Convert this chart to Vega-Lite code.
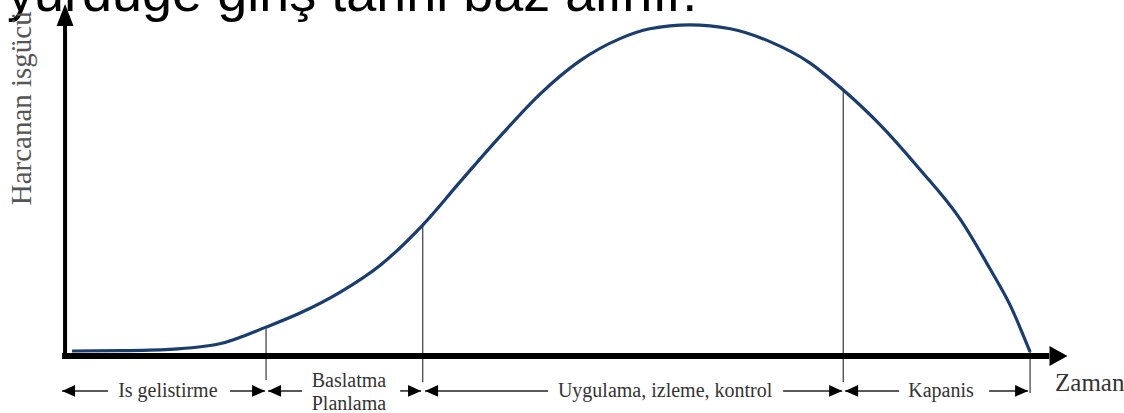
{
  "$schema": "https://vega.github.io/schema/vega-lite/v6.json",
  "width": 1124,
  "height": 413,
  "autosize": {"type": "none"},
  "padding": 0,
  "background": "white",
  "config": {"view": {"stroke": null}},
  "datasets": {
    "curve": [
      {"t": 0, "e": 0.3}, {"t": 5.0, "e": 0.4}, {"t": 10.2, "e": 0.8}, {"t": 15.4, "e": 2.5},
      {"t": 20.25, "e": 7.6}, {"t": 23.8, "e": 11.9}, {"t": 28.0, "e": 18.3}, {"t": 32.2, "e": 26.6},
      {"t": 36.6, "e": 38.8}, {"t": 40.5, "e": 52.0}, {"t": 44.7, "e": 66.0}, {"t": 48.9, "e": 79.0},
      {"t": 53.0, "e": 89.0}, {"t": 57.2, "e": 95.8}, {"t": 60.3, "e": 98.8}, {"t": 64.5, "e": 100},
      {"t": 68.7, "e": 98.8}, {"t": 72.9, "e": 94.8}, {"t": 77.0, "e": 88.4}, {"t": 80.5, "e": 80.1},
      {"t": 84.3, "e": 69.6}, {"t": 88.5, "e": 55.8}, {"t": 92.7, "e": 40.6}, {"t": 95.8, "e": 25.5},
      {"t": 97.9, "e": 14.4}, {"t": 100, "e": 0}
    ],
    "yaxis": [{"t": -0.73, "e": -1.22, "t2": -0.73, "e2": 101.5}],
    "xaxis": [{"t": -1.04, "e": -1.22, "t2": 102, "e2": -1.22}],
    "yhead": [{"t": -0.73, "e": 106.4}],
    "xhead": [{"t": 103.9, "e": -1.22}],
    "phases": [
      {"t": 20.25, "e": 7.6, "e2": -8.6},
      {"t": 36.6, "e": 38.8, "e2": -9.2},
      {"t": 80.5, "e": 80.1, "e2": -9.2},
      {"t": 100, "e": 0, "e2": -12.5}
    ],
    "shafts": [
      {"t": -1.04, "t2": 3.76, "e": -11.9}, {"t": 16.49, "t2": 20.15, "e": -11.9},
      {"t": 20.46, "t2": 24.01, "e": -11.9}, {"t": 34.24, "t2": 36.43, "e": -11.9},
      {"t": 36.85, "t2": 49.69, "e": -11.9}, {"t": 74.22, "t2": 80.38, "e": -11.9},
      {"t": 80.69, "t2": 86.33, "e": -11.9}, {"t": 95.72, "t2": 99.79, "e": -11.9}
    ],
    "lefthead": [{"t": -1.04, "e": -11.9}, {"t": 20.46, "e": -11.9}, {"t": 36.85, "e": -11.9}, {"t": 80.69, "e": -11.9}],
    "righthead": [{"t": 20.15, "e": -11.9}, {"t": 36.43, "e": -11.9}, {"t": 80.38, "e": -11.9}, {"t": 99.79, "e": -11.9}],
    "phaselabels": [
      {"t": 10.0, "e": -11.9, "label": "Is gelistirme"},
      {"t": 28.9, "e": -9.0, "label": "Baslatma"},
      {"t": 28.9, "e": -15.8, "label": "Planlama"},
      {"t": 61.9, "e": -11.9, "label": "Uygulama, izleme, kontrol"},
      {"t": 90.7, "e": -11.9, "label": "Kapanis"}
    ],
    "xtitle": [{"t": 102.6, "e": -9.5, "label": "Zaman"}],
    "ytitle": [{"t": -5.22, "e": 74.5, "label": "Harcanan isgücü"}],
    "toptext": [{"t": -6.79, "e": 104.3, "label": "yurduğe giriş tarihi baz alınır."}]
  },
  "encoding": {
    "x": {"field": "t", "type": "quantitative", "scale": {"domain": [-7.52, 109.8], "nice": false, "zero": false}, "axis": null},
    "y": {"field": "e", "type": "quantitative", "scale": {"domain": [-18.65, 107.6], "nice": false, "zero": false}, "axis": null}
  },
  "layer": [
    {"data": {"name": "toptext"}, "mark": {"type": "text", "font": "Liberation Sans", "fontSize": 54, "align": "left", "baseline": "alphabetic", "color": "black"}, "encoding": {"text": {"field": "label"}}},
    {"data": {"name": "phases"}, "mark": {"type": "rule", "color": "#555555", "strokeWidth": 1.4}, "encoding": {"y2": {"field": "e2"}}},
    {"data": {"name": "curve"}, "mark": {"type": "line", "color": "#1b3d6e", "strokeWidth": 3.2, "interpolate": "monotone"}},
    {"data": {"name": "yaxis"}, "mark": {"type": "rule", "color": "black", "strokeWidth": 4}, "encoding": {"x2": {"field": "t2"}, "y2": {"field": "e2"}}},
    {"data": {"name": "xaxis"}, "mark": {"type": "rule", "color": "black", "strokeWidth": 6}, "encoding": {"x2": {"field": "t2"}, "y2": {"field": "e2"}}},
    {"data": {"name": "yhead"}, "mark": {"type": "point", "shape": "M0,0L0.77,2L-0.77,2Z", "size": 484, "filled": true, "color": "black", "opacity": 1}},
    {"data": {"name": "xhead"}, "mark": {"type": "point", "shape": "M0,0L-2,-1.1L-2,1.1Z", "size": 324, "filled": true, "color": "black", "opacity": 1}},
    {"data": {"name": "shafts"}, "mark": {"type": "rule", "color": "#222222", "strokeWidth": 1.5}, "encoding": {"x2": {"field": "t2"}}},
    {"data": {"name": "lefthead"}, "mark": {"type": "point", "shape": "M0,0L2,-0.9L2,0.9Z", "size": 169, "filled": true, "color": "black", "opacity": 1}},
    {"data": {"name": "righthead"}, "mark": {"type": "point", "shape": "M0,0L-2,-0.9L-2,0.9Z", "size": 169, "filled": true, "color": "black", "opacity": 1}},
    {"data": {"name": "phaselabels"}, "mark": {"type": "text", "font": "Liberation Serif", "fontSize": 20, "align": "center", "baseline": "middle", "color": "#333333"}, "encoding": {"text": {"field": "label"}}},
    {"data": {"name": "xtitle"}, "mark": {"type": "text", "font": "Liberation Serif", "fontSize": 25, "align": "left", "baseline": "middle", "color": "#333333"}, "encoding": {"text": {"field": "label"}}},
    {"data": {"name": "ytitle"}, "mark": {"type": "text", "font": "Liberation Serif", "fontSize": 29, "align": "center", "baseline": "middle", "angle": 270, "color": "#555555"}, "encoding": {"text": {"field": "label"}}}
  ]
}
